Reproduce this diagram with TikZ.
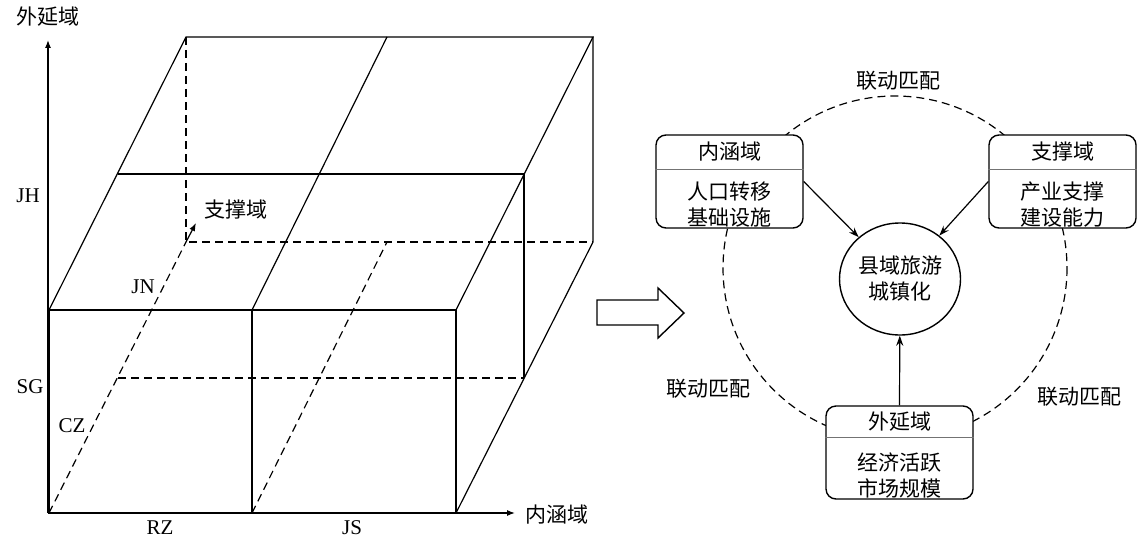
\documentclass[tikz,border=0pt]{standalone}
\usepackage{fontspec}
\setmainfont{Liberation Serif}
\newfontfamily\cjk{Noto Sans CJK SC}
\usetikzlibrary{arrows.meta,calc,shapes.geometric}
\tikzset{
  cubeline/.style={line width=0.6pt},
  cubehidden/.style={line width=0.6pt,dash pattern=on 4pt off 2.5pt},
  axisline/.style={line width=0.6pt,-{Latex[length=4pt,width=3pt]}},
  zh/.style={font=\cjk\fontsize{10.5pt}{13pt}\selectfont,inner sep=0pt},
  en/.style={font=\fontsize{10.5pt}{13pt}\selectfont,inner sep=0pt},
  fieldbox/.style={draw,line width=0.7pt,rounded corners=5pt,fill=white,minimum width=73.5pt,minimum height=46.5pt},
  hubnode/.style={ellipse,draw,line width=0.7pt,fill=white,minimum width=60.5pt,minimum height=56pt,inner sep=0pt},
  divider/.style={line width=0.5pt,black!55},
  feed/.style={line width=0.6pt,-{Stealth[length=5pt,width=3.5pt]}},
}
\begin{document}
\begin{tikzpicture}[x=0.5pt,y=-0.5pt]
  \useasboundingbox (0,0) rectangle (1143,540);
  % cube
  \draw [cubeline] (49,310) rectangle (456,513);
  \draw [cubeline] (252,310) -- (252,513);
  \draw [cubeline] (49,310) -- (186,37) -- (593,37) -- (456,310);
  \draw [cubeline] (252,310) -- (387,37);
  \draw [cubeline] (118,174) -- (524,174) -- (524,378);
  \draw [cubeline] (593,37) -- (593,242) -- (456,513);
  \draw [cubehidden] (186,37) -- (186,242) -- (593,242);
  \draw [cubehidden] (49,513) -- (186,242);
  \draw [cubehidden] (252,513) -- (387,242);
  \draw [cubehidden] (118,378) -- (524,378);
  % axes
  \coordinate (o) at (48,513);
  \coordinate (yend) at (48,40);
  \coordinate (xend) at (515,513);
  \coordinate (back) at (186,242);
  \coordinate (zend) at (196,223);
  \draw [axisline] (o) -- (yend);
  \draw [axisline] (o) -- (xend);
  \draw [line width=0.6pt,-{Latex[length=4pt,width=3pt]}] (back) -- (zend);
  \node (wyax) [zh] at (48,17) {外延域};
  \node (nhax) [zh] at (557,515) {内涵域};
  \node (zcax) [zh] at (236,210) {支撑域};
  \node (jh) [en] at (28,196) {JH};
  \node (sg) [en] at (30,387) {SG};
  \node (cz) [en] at (72,426) {CZ};
  \node (jn) [en] at (143,287) {JN};
  \node (rz) [en] at (160,528) {RZ};
  \node (js) [en] at (352,528) {JS};
  % hollow arrow
  \draw [line width=0.7pt] (597,300) -- (658,300) -- (658,288) -- (684,313) -- (658,338) -- (658,325) -- (597,325) -- cycle;
  % right part
  \coordinate (ring) at (895,268);
  \draw [cubehidden] (ring) circle (172);
  \node (ltop) [zh] at (898,81) {联动匹配};
  \node (lleft) [zh] at (708,389) {联动匹配};
  \node (lright) [zh] at (1079,397) {联动匹配};
  \node (xy) [hubnode,zh,align=center] at (900,279) {县域旅游\\城镇化};
  \node (nh) [fieldbox] at (729.5,181.5) {};
  \node (nhT) [zh] at (729.5,152) {内涵域};
  \node (nhB) [zh,align=center] at (729.5,205) {人口转移\\基础设施};
  \draw [divider] ($(nh.north west)+(0,35)$) -- ($(nh.north east)+(0,35)$);
  \node (zc) [fieldbox] at (1062.5,181.5) {};
  \node (zcT) [zh] at (1062.5,152) {支撑域};
  \node (zcB) [zh,align=center] at (1062.5,205) {产业支撑\\建设能力};
  \draw [divider] ($(zc.north west)+(0,35)$) -- ($(zc.north east)+(0,35)$);
  \node (wy) [fieldbox] at (899.5,452.5) {};
  \node (wyT) [zh] at (899.5,422) {外延域};
  \node (wyB) [zh,align=center] at (899.5,475) {经济活跃\\市场规模};
  \draw [divider] ($(wy.north west)+(0,32)$) -- ($(wy.north east)+(0,32)$);
  \draw [feed] (nh.east) -- (xy);
  \draw [feed] (zc.west) -- (xy);
  \draw [feed] (wy.north) -- (xy);
\end{tikzpicture}
\end{document}
